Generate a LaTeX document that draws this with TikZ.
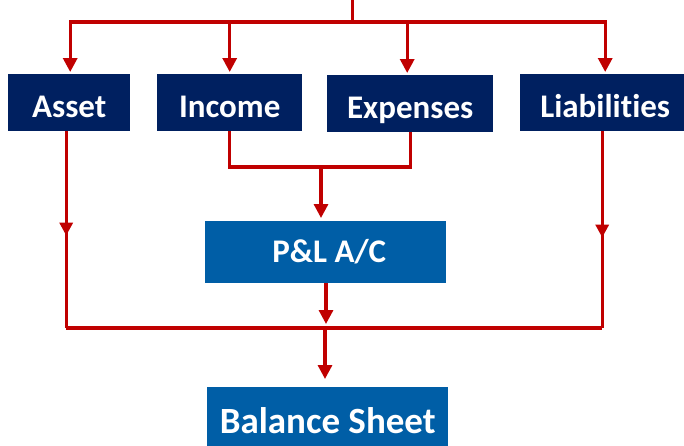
\documentclass[tikz,border=0pt]{standalone}
\usepackage{fontspec}
\setmainfont{Carlito}[Ligatures={NoCommon,NoRequired,NoContextual}]
\usetikzlibrary{arrows.meta,decorations.markings}

\definecolor{navybox}{RGB}{0,32,96}
\definecolor{bluebox}{RGB}{0,94,166}
\definecolor{wirered}{RGB}{192,0,0}

\tikzset{
  x=1pt, y=-1pt,
  account/.style={fill=navybox, text=white, inner sep=0pt, anchor=north west,
    font=\fontsize{33}{36}\selectfont\bfseries, text height=29pt, text depth=0pt},
  statement/.style={fill=bluebox, text=white, inner sep=0pt, anchor=north west,
    font=\fontsize{33}{36}\selectfont\bfseries, text height=20pt, text depth=0pt},
  wire/.style={draw=wirered, line width=3.2pt, line join=miter},
  tip/.style={-{Triangle[length=14pt,width=14pt]}},
  midtip/.style={postaction={decorate}, decoration={markings,
    mark=at position #1 with {\arrow{Triangle[length=13pt,width=13pt]}}}},
}

\begin{document}
\begin{tikzpicture}
\useasboundingbox (0,0) rectangle (684,445);
\clip (0,0) rectangle (684,445);

% account boxes
\node[account, minimum width=122pt, minimum height=57pt] (asset) at (8,74) {Asset};
\node[account, minimum width=145pt, minimum height=57pt] (income) at (157,74) {Income};
\node[account, minimum width=166pt, minimum height=57pt] (exp) at (327,75) {Expenses};
\node[account, minimum width=170pt, minimum height=57pt] (liab) at (520,74) {Liabili\kern0pt ti\kern0pt es};

% statements
\node[statement, minimum width=241pt, minimum height=62pt] (pl) at (205,221) {\hspace*{7pt}P\&L A/C};
\node[statement, minimum width=241pt, minimum height=62pt,
      font=\fontsize{37}{40}\selectfont\bfseries, text height=31pt] (bs) at (207,387) {Balance Sheet};

% junction points
\coordinate (src) at (352.5,0);
\coordinate (bus) at (352.5,22);
\coordinate (merge) at (321,167);
\coordinate (bot) at (325,328);

% top distribution bus
\draw[wire] (src) -- (bus);
\draw[wire, tip, shorten >=2pt] (bus) -| ([xshift=1pt]asset.north);
\draw[wire, tip, shorten >=2pt] (bus) -| (income.north);
\draw[wire, tip, shorten >=2pt] (bus) -| ([xshift=-3pt]exp.north);
\draw[wire, tip, shorten >=2pt] (bus) -| (liab.north);

% income and expenses into P&L
\draw[wire] (income.south) |- (merge) -| (exp.south);
\draw[wire, tip, shorten >=3pt] (merge) -- (merge |- pl.north);

% assets and liabilities down to the lower bus
\draw[wire, midtip=0.53] ([xshift=-3pt]asset.south) -- ([xshift=-3pt]asset.south |- bot);
\draw[wire, midtip=0.54] ([xshift=-3pt]liab.south) -- ([xshift=-3pt]liab.south |- bot);
\draw[wire] ([xshift=-3pt]asset.south |- bot) -- ([xshift=-3pt]liab.south |- bot);

% P&L into the lower bus, then to the balance sheet
\draw[wire, tip, shorten >=4pt] ([xshift=1pt]pl.south -| bot) -- ([xshift=1pt]bot);
\draw[wire, tip, shorten >=8pt] (bot) -- (bot |- bs.north);
\end{tikzpicture}
\end{document}
